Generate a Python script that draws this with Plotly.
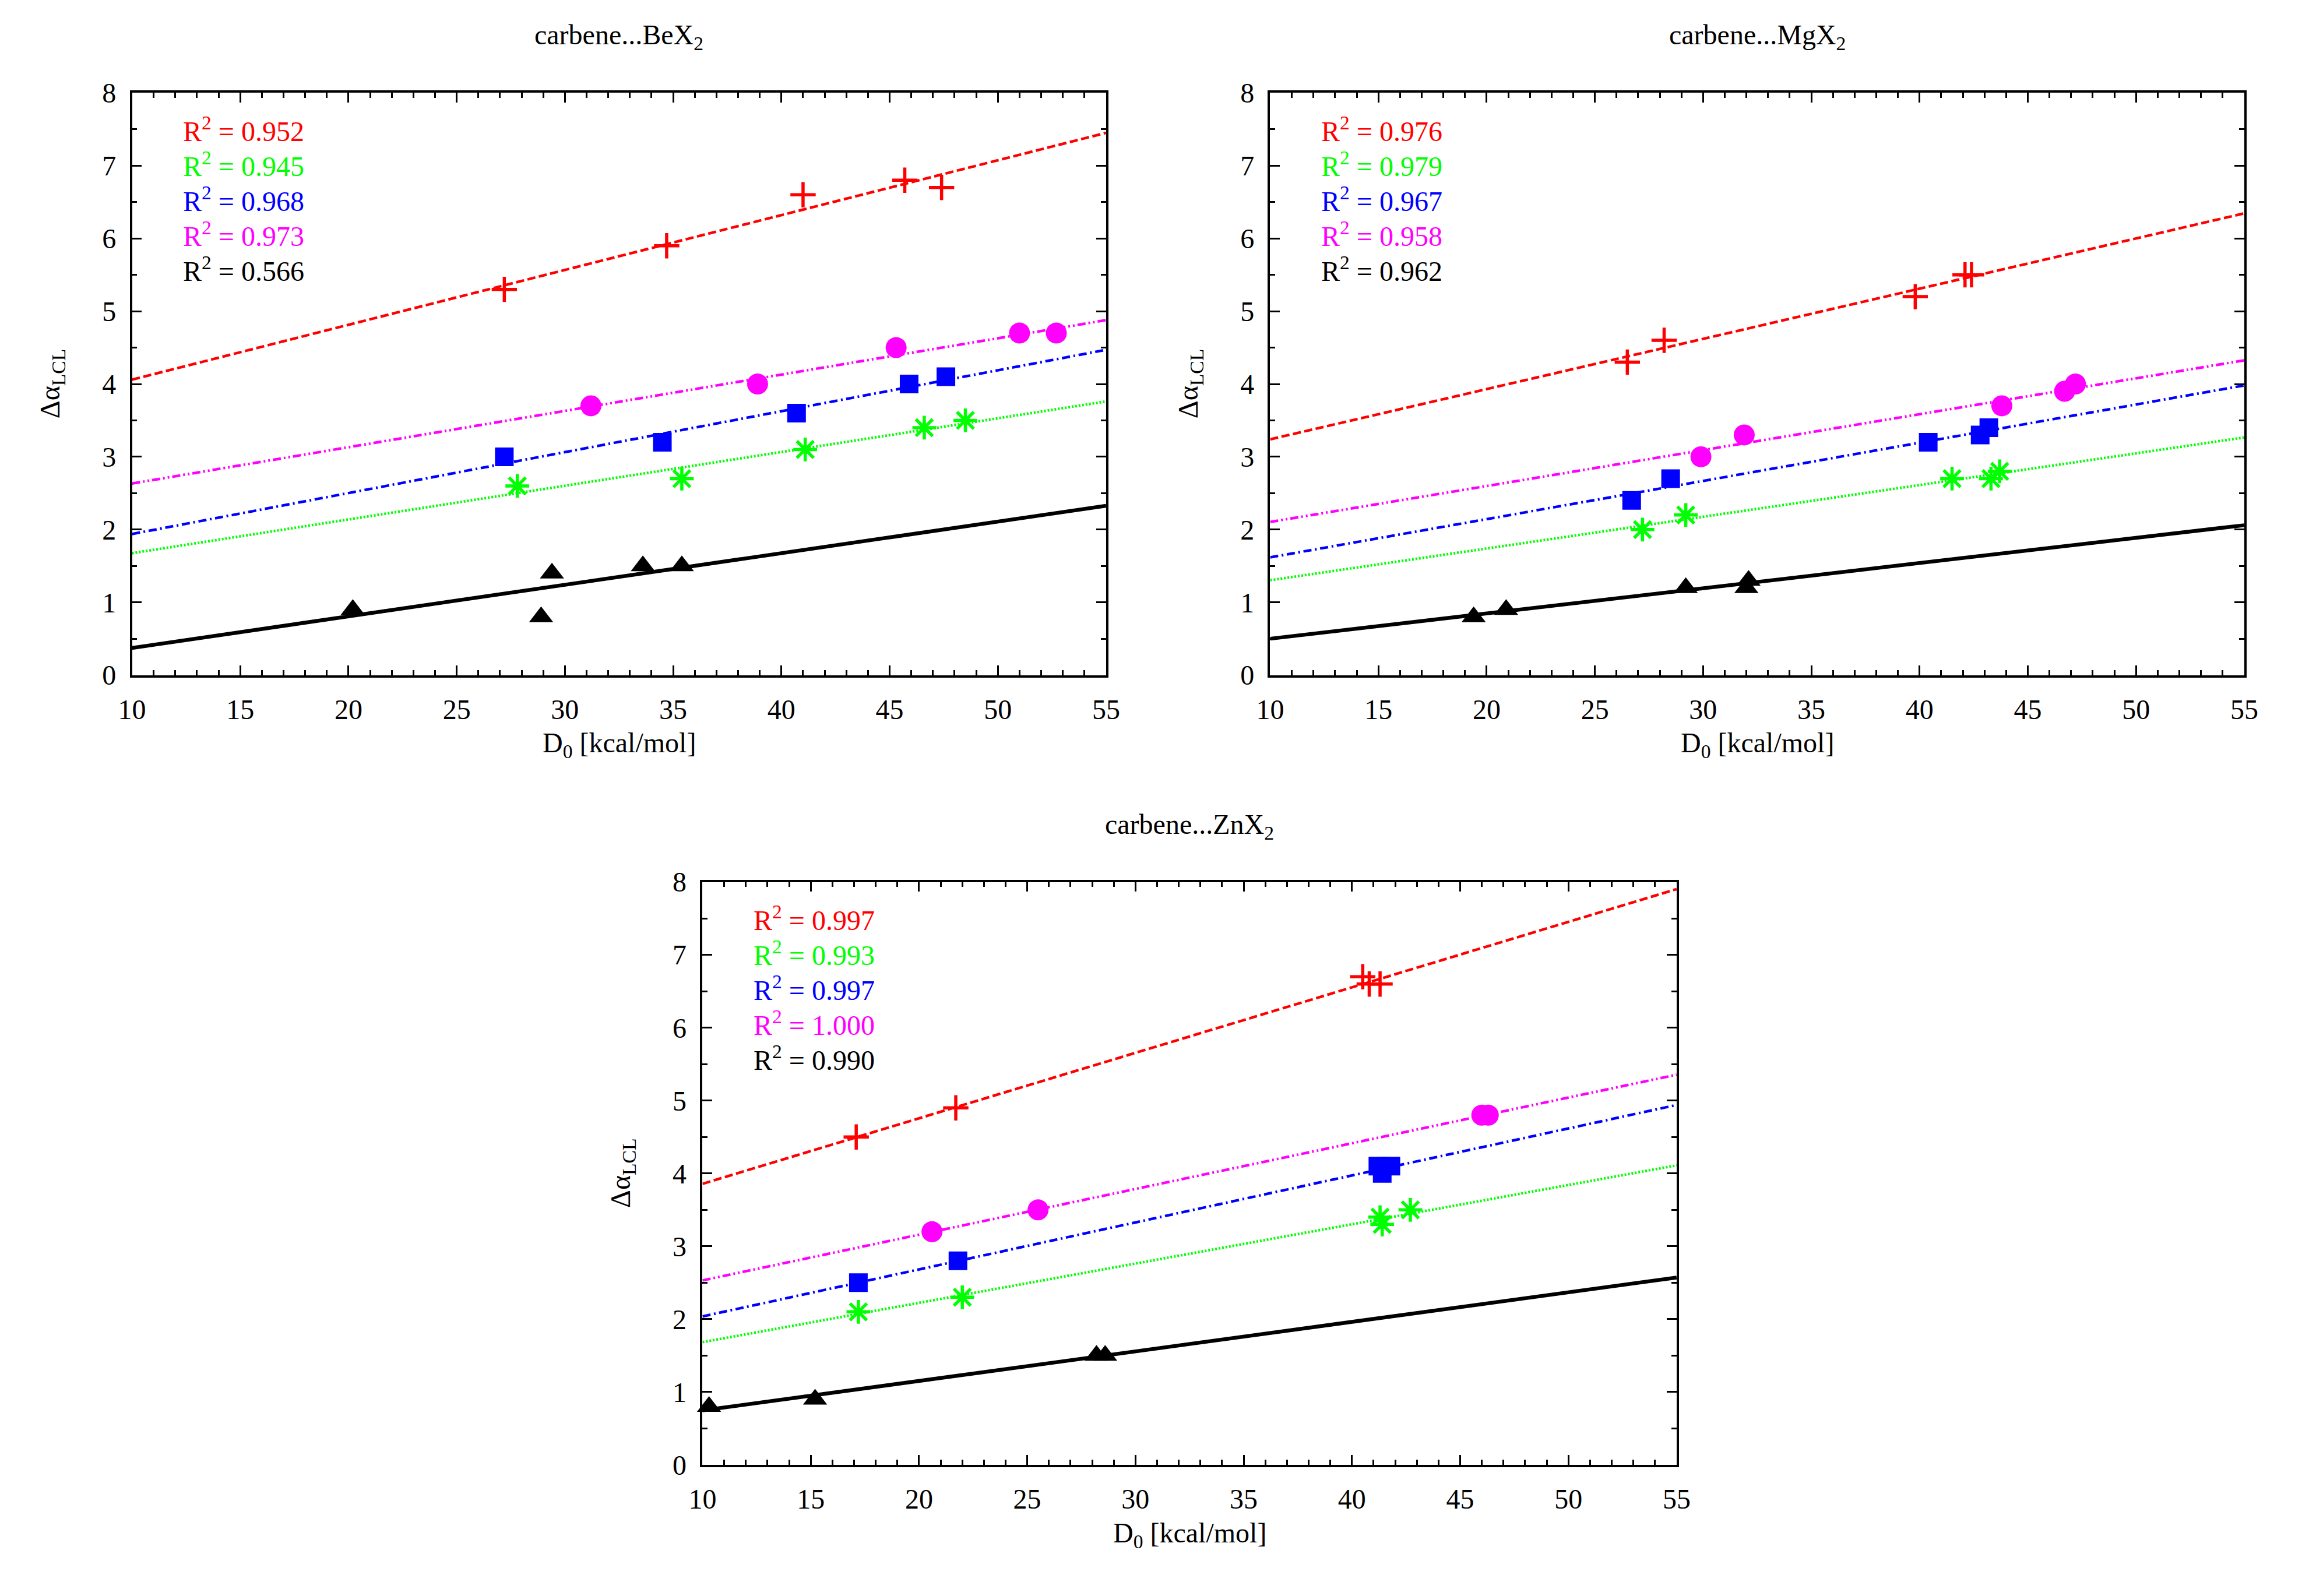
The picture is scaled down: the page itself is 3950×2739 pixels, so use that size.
import numpy as np
import plotly.graph_objects as go

# ---------------- data ----------------
panel_titles = ["carbene...BeX<sub>2</sub>", "carbene...MgX<sub>2</sub>", "carbene...ZnX<sub>2</sub>"]
x_range = [10, 55]
y_range = [0, 8]
x_ticks = [10, 15, 20, 25, 30, 35, 40, 45, 50, 55]
y_ticks = [0, 1, 2, 3, 4, 5, 6, 7, 8]

# BeX2
be_red_x = [27.2, 34.7, 41.0, 45.7, 47.4]
be_red_y = [5.3, 5.9, 6.6, 6.8, 6.7]
be_green_x = [27.8, 35.4, 41.1, 46.6, 48.5]
be_green_y = [2.6, 2.7, 3.1, 3.4, 3.5]
be_blue_x = [27.2, 34.5, 40.7, 45.9, 47.6]
be_blue_y = [3.0, 3.2, 3.6, 4.0, 4.1]
be_mag_x = [31.2, 38.9, 45.3, 51.0, 52.7]
be_mag_y = [3.7, 4.0, 4.5, 4.7, 4.7]
be_black_x = [20.2, 28.9, 29.4, 33.6, 35.4]
be_black_y = [0.9, 0.8, 1.4, 1.5, 1.5]
be_r2 = ["0.952", "0.945", "0.968", "0.973", "0.566"]

# MgX2
mg_red_x = [26.5, 28.2, 39.8, 42.1, 42.4]
mg_red_y = [4.3, 4.6, 5.2, 5.5, 5.5]
mg_green_x = [27.2, 29.2, 41.5, 43.3, 43.7]
mg_green_y = [2.0, 2.2, 2.7, 2.7, 2.8]
mg_blue_x = [26.7, 28.5, 40.4, 42.8, 43.2]
mg_blue_y = [2.4, 2.7, 3.2, 3.3, 3.4]
mg_mag_x = [29.9, 31.9, 43.8, 46.7, 47.2]
mg_mag_y = [3.0, 3.3, 3.7, 3.9, 4.0]
mg_black_x = [19.4, 20.9, 29.2, 32.0, 32.1]
mg_black_y = [0.8, 0.9, 1.2, 1.2, 1.3]
mg_r2 = ["0.976", "0.979", "0.967", "0.958", "0.962"]

# ZnX2
zn_red_x = [17.1, 21.7, 40.5, 40.8, 41.3]
zn_red_y = [4.5, 4.9, 6.7, 6.6, 6.6]
zn_green_x = [17.2, 22.0, 41.3, 41.4, 42.7]
zn_green_y = [2.1, 2.3, 3.4, 3.3, 3.5]
zn_blue_x = [17.2, 21.8, 41.2, 41.4, 41.8]
zn_blue_y = [2.5, 2.8, 4.1, 4.0, 4.1]
zn_mag_x = [20.6, 25.5, 46.0, 46.3]
zn_mag_y = [3.2, 3.5, 4.8, 4.8]
zn_black_x = [10.3, 15.2, 28.2, 28.6]
zn_black_y = [0.8, 0.9, 1.5, 1.5]
zn_r2 = ["0.997", "0.993", "0.997", "1.000", "0.990"]

# ---------------- styles ----------------
FONT = "Liberation Serif"
FS = 48
W, H = 3950, 2739

series_style = [
    dict(color="#ff0000", symbol="cross-thin", size=31, mlw=5.5, dash="14px,6px", lw=4.5),
    dict(color="#00ff00", symbol="asterisk-open", size=34, mlw=5.5, dash="3px,3px", lw=4.5),
    dict(color="#0000ff", symbol="square", size=32, mlw=0, dash="14px,6px,3px,6px", lw=4.5),
    dict(color="#ff00ff", symbol="circle", size=36, mlw=0, dash="14px,5px,3px,5px,3px,5px", lw=4.5),
    dict(color="#000000", symbol="triangle-up", size=36, mlw=0, dash="solid", lw=6.5),
]

panels = [
    dict(data=[(be_red_x, be_red_y), (be_green_x, be_green_y), (be_blue_x, be_blue_y),
               (be_mag_x, be_mag_y), (be_black_x, be_black_y)], r2=be_r2,
         px=(205, 1897), py=(136, 1155)),
    dict(data=[(mg_red_x, mg_red_y), (mg_green_x, mg_green_y), (mg_blue_x, mg_blue_y),
               (mg_mag_x, mg_mag_y), (mg_black_x, mg_black_y)], r2=mg_r2,
         px=(2182, 3874), py=(136, 1155)),
    dict(data=[(zn_red_x, zn_red_y), (zn_green_x, zn_green_y), (zn_blue_x, zn_blue_y),
               (zn_mag_x, zn_mag_y), (zn_black_x, zn_black_y)], r2=zn_r2,
         px=(1196, 2888), py=(1517, 2537)),
]

fig = go.Figure()
annotations = []
layout_axes = {}

for i, p in enumerate(panels):
    n = i + 1
    xa = "x" if n == 1 else f"x{n}"
    ya = "y" if n == 1 else f"y{n}"
    x0, x1 = p["px"]
    y0, y1 = p["py"]
    xdom = [x0 / W, x1 / W]
    ydom = [1 - y1 / H, 1 - y0 / H]

    common = dict(showline=True, mirror="allticks", linecolor="black", linewidth=3.5,
                  ticks="inside", ticklen=17, tickwidth=3, tickcolor="black",
                  showgrid=False, zeroline=False,
                  tickfont=dict(family=FONT, size=FS, color="black"))
    layout_axes["xaxis" if n == 1 else f"xaxis{n}"] = dict(
        common, domain=xdom, range=x_range, anchor=ya, tickvals=x_ticks,
        ticklabelstandoff=14,
        minor=dict(dtick=1, ticks="inside", ticklen=9, tickwidth=3, tickcolor="black", showgrid=False))
    layout_axes["yaxis" if n == 1 else f"yaxis{n}"] = dict(
        common, domain=ydom, range=y_range, anchor=xa, tickvals=y_ticks,
        ticklabelstandoff=14,
        minor=dict(dtick=0.5, ticks="inside", ticklen=9, tickwidth=3, tickcolor="black", showgrid=False))

    for (xs, ys), st in zip(p["data"], series_style):
        slope, icpt = np.polyfit(xs, ys, 1)
        fx = np.array(x_range, dtype=float)
        fig.add_trace(go.Scatter(x=fx, y=icpt + slope * fx, mode="lines", xaxis=xa, yaxis=ya,
                                 line=dict(color=st["color"], width=st["lw"], dash=st["dash"]),
                                 showlegend=False, hoverinfo="skip"))
    for (xs, ys), st in zip(p["data"], series_style):
        fig.add_trace(go.Scatter(x=xs, y=ys, mode="markers", xaxis=xa, yaxis=ya,
                                 marker=dict(symbol=st["symbol"], size=st["size"], color=st["color"],
                                             line=dict(color=st["color"], width=st["mlw"])),
                                 showlegend=False, cliponaxis=False))

    # R^2 labels
    for k, (r2, st) in enumerate(zip(p["r2"], series_style)):
        annotations.append(dict(xref=xa, yref=ya, x=12.29, y=7.5 - 0.48 * k,
                                xanchor="left", yanchor="middle", showarrow=False,
                                text=f"R<sup>2</sup> = {r2}",
                                font=dict(family=FONT, size=FS, color=st["color"])))
    cx = (x0 + x1) / 2 / W
    annotations.append(dict(xref="paper", yref="paper", x=cx, y=1 - (y0 - 98) / H,
                            xanchor="center", yanchor="middle", showarrow=False,
                            text=panel_titles[i], font=dict(family=FONT, size=FS, color="black")))
    annotations.append(dict(xref="paper", yref="paper", x=cx, y=1 - (y1 + 122) / H,
                            xanchor="center", yanchor="middle", showarrow=False,
                            text="D<sub>0</sub> [kcal/mol]", font=dict(family=FONT, size=FS, color="black")))
    annotations.append(dict(xref="paper", yref="paper", x=(x0 - 139) / W, y=1 - (y0 + y1) / 2 / H,
                            xanchor="center", yanchor="middle", showarrow=False, textangle=-90,
                            text="Δα<sub>LCL</sub>", font=dict(family=FONT, size=FS, color="black")))

fig.update_layout(width=W, height=H, margin=dict(l=0, r=0, t=0, b=0),
                  paper_bgcolor="white", plot_bgcolor="white",
                  font=dict(family=FONT, size=FS, color="black"),
                  annotations=annotations, **layout_axes)

fig.write_html("out.html")
